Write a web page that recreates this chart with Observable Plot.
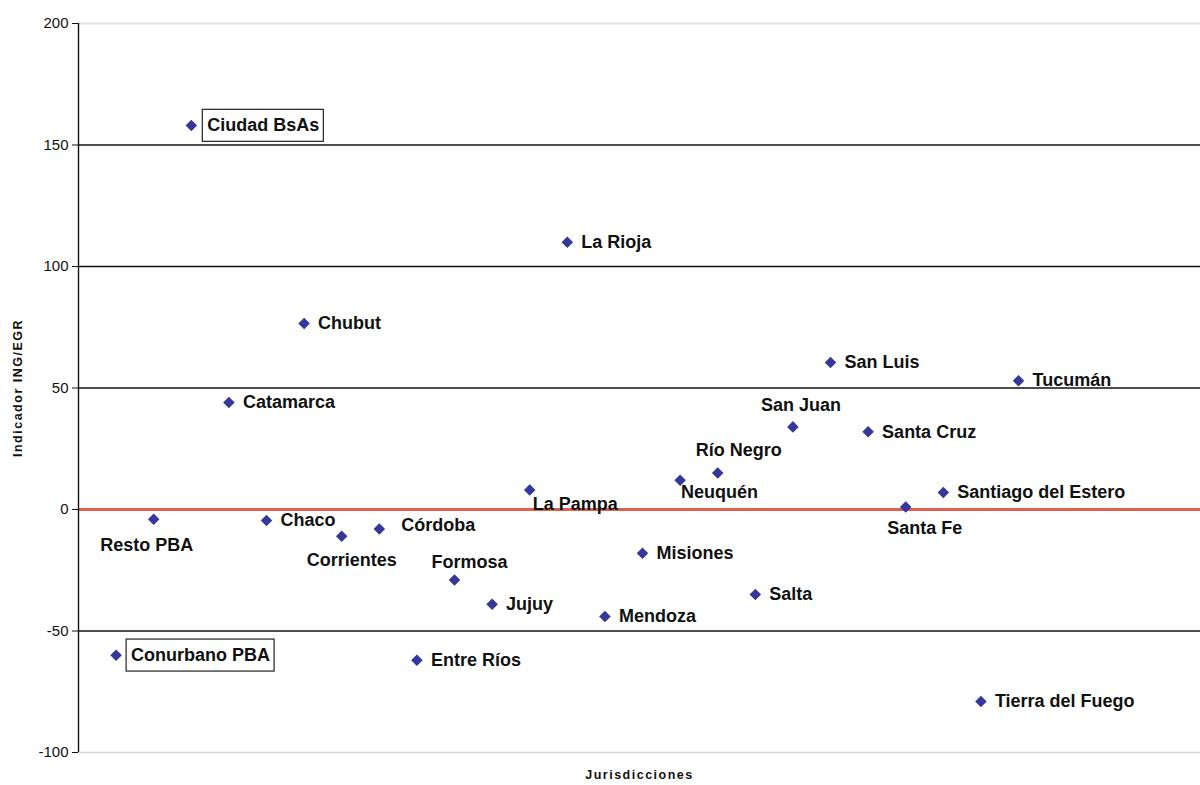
<!DOCTYPE html>
<html><head><meta charset="utf-8">
<script src="https://cdn.jsdelivr.net/npm/d3@7"></script>
<script src="https://cdn.jsdelivr.net/npm/@observablehq/plot@0.6"></script>
<style>body{margin:0;background:#fff} svg{display:block}</style>
</head><body><div id="chart"></div>
<script>
// ---- data ----
const jurisdicciones = ["Conurbano PBA","Resto PBA","Ciudad BsAs","Catamarca","Chaco","Chubut","Corrientes","Córdoba","Entre Ríos","Formosa","Jujuy","La Pampa","La Rioja","Mendoza","Misiones","Neuquén","Río Negro","Salta","San Juan","San Luis","Santa Cruz","Santa Fe","Santiago del Estero","Tierra del Fuego","Tucumán"];
const indicador = [-60,-4,158,44,-4.5,76.5,-11,-8,-62,-29,-39,8,110,-44,-18,12,15,-35,34,60.5,32,1,7,-79,53];
const yTicks = [-100,-50,0,50,100,150,200];
const gridLines = [-50,50,100,150];
const boxedLabels = ["Ciudad BsAs","Conurbano PBA"];
const yTitle = "Indicador ING/EGR";
const xTitle = "Jurisdicciones";

// ---- rendering ----
const rows = jurisdicciones.map((name, i) => ({name, pos: i + 1, value: indicador[i]}));

const place = {
  "Resto PBA": {dx: -7, dy: 26, a: "middle"},
  "Corrientes": {dx: 10, dy: 24, a: "middle"},
  "Córdoba": {dx: 22, dy: -4, a: "start"},
  "Formosa": {dx: 15, dy: -18, a: "middle"},
  "La Pampa": {dx: 3, dy: 14, a: "start"},
  "Neuquén": {dx: 1, dy: 12, a: "start"},
  "Río Negro": {dx: 21, dy: -23, a: "middle"},
  "San Juan": {dx: 8, dy: -22, a: "middle"},
  "Santa Fe": {dx: 19, dy: 21, a: "middle"},
  "Ciudad BsAs": {dx: 16, dy: 0, a: "start"},
  "Conurbano PBA": {dx: 15, dy: 0, a: "start"}
};
const font = "Liberation Sans, Arial, sans-serif";

const labelMarks = rows.map(d => {
  const p = place[d.name] || {dx: 14, dy: 0, a: "start"};
  return Plot.text([d], {
    x: "pos", y: "value", text: "name",
    dx: p.dx, dy: p.dy, textAnchor: p.a,
    fontSize: 18, fontWeight: "bold", fill: "#111",
    className: boxedLabels.includes(d.name) ? "boxed" : undefined
  });
});

const chart = Plot.plot({
  width: 1200, height: 785,
  marginLeft: 78, marginRight: 0, marginTop: 23, marginBottom: 33,
  style: {fontFamily: font, background: "#fff"},
  x: {domain: [0, 29.84], axis: null},
  y: {domain: [-100, 200], axis: null},
  marks: [
    Plot.ruleY([200], {stroke: "#e4e4e4", strokeWidth: 2}),
    Plot.ruleY([-100], {stroke: "#d6d6d6", strokeWidth: 1.5}),
    Plot.ruleY(gridLines, {stroke: "#111", strokeWidth: 1.4}),
    Plot.ruleY([0], {stroke: "#dc6050", strokeWidth: 3}),
    Plot.ruleX([0], {y1: -100, y2: 200, stroke: "#111", strokeWidth: 1.4}),
    Plot.axisY(yTicks, {tickSize: 6, tickPadding: 4, fontSize: 15, label: null, tickFormat: d => String(d), stroke: "#111", fill: "#111"}),
    Plot.dot(rows, {x: "pos", y: "value", symbol: "square", rotate: 45, r: 4.6, fill: "#36379a", stroke: "none"}),
    ...labelMarks,
    Plot.text([yTitle], {frameAnchor: "left", textAnchor: "middle", dx: -61, rotate: -90, fontSize: 12.5, fontWeight: "bold", fill: "#111"}),
    Plot.text([xTitle], {frameAnchor: "bottom", dy: 26, fontSize: 12.5, fontWeight: "bold", fill: "#111"})
  ]
});
document.getElementById("chart").appendChild(chart);

// letter spacing for axis titles
d3.select(chart).selectAll("text").filter(function(){ return this.textContent === yTitle || this.textContent === xTitle; })
  .attr("letter-spacing", "1.5px");

// boxes around the boxed labels
d3.select(chart).selectAll("g.boxed text").each(function(){
  const b = this.getBBox();
  const t = this.getAttribute("transform");
  d3.select(this.parentNode).insert("rect", () => this)
    .attr("x", b.x - 5).attr("y", b.y - 6).attr("width", b.width + 9).attr("height", b.height + 12)
    .attr("transform", t).attr("fill", "#fff").attr("stroke", "#222").attr("stroke-width", 1.2);
});
</script></body></html>
